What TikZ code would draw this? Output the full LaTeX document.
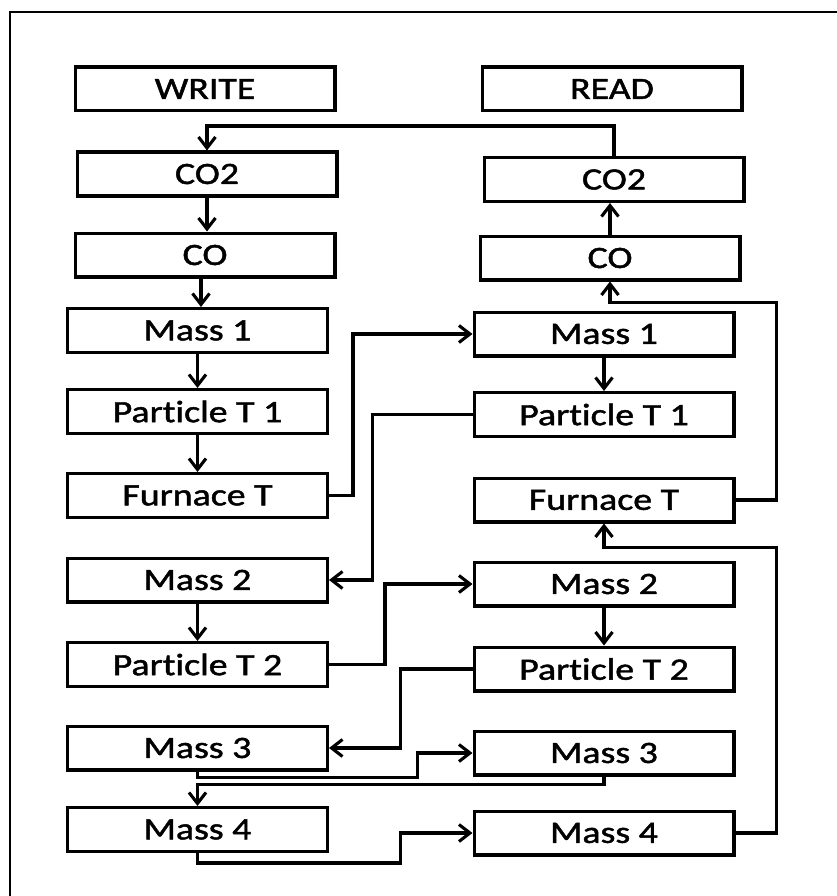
\documentclass[tikz,border=0pt]{standalone}
\usepackage{fontspec}
\setmainfont{Carlito}[FakeStretch=1.22,FakeBold=1.5,RawFeature={-liga}]
\usetikzlibrary{arrows.meta,calc}
\begin{document}
\begin{tikzpicture}[x=1pt,y=-1pt,
  box/.style={draw, line width=3.4pt, minimum width=259.6pt, minimum height=43.6pt, inner sep=0pt, font=\fontsize{31}{36}\selectfont},
  conn/.style={line width=3.1pt},
  arr/.style={conn, -{Straight Barb[length=11pt,width=17pt,line width=3.1pt]}},
  frame/.style={line width=2pt}
]
\useasboundingbox (0,0) rectangle (837,896);
\coordinate (fa) at (10,896);
\coordinate (fb) at (10,12);
\coordinate (fc) at (837,12);
\draw[frame] (fa) -- (fb) -- (fc);

\node[box] (write) at (205,89) {WRITE};
\node[box] (read) at (612,89) {READ};
\node[box] (co2l) at (207,174) {CO2};
\node[box] (co2r) at (614,179.5) {CO2};
\node[box] (col) at (205,255) {CO};
\node[box] (cor) at (610,258) {CO};
\node[box] (m1l) at (197.5,330.5) {Mass 1};
\node[box] (m1r) at (604,334) {Mass 1};
\node[box] (pt1l) at (197.5,411.5) {Particle T 1};
\node[box] (pt1r) at (604,414.5) {Particle T 1};
\node[box] (ftl) at (197.5,495.5) {Furnace T};
\node[box] (ftr) at (604,500) {Furnace T};
\node[box] (m2l) at (197.5,580) {Mass 2};
\node[box] (m2r) at (604,584) {Mass 2};
\node[box] (pt2l) at (197.5,664.5) {Particle T 2};
\node[box] (pt2r) at (604,669) {Particle T 2};
\node[box] (m3l) at (197.5,748) {Mass 3};
\node[box] (m3r) at (604,753) {Mass 3};
\node[box] (m4l) at (197.5,829.5) {Mass 4};
\node[box] (m4r) at (604,833) {Mass 4};

\draw[arr] (co2r.north) -- ++(0,-30) -| (co2l.north);
\draw[arr] (co2l.south) -- (co2l.south |- col.north);
\draw[arr] ($(col.south)+(-4,0)$) -- ($(col.south |- m1l.north)+(-4,0)$);
\draw[arr] (m1l) -- (pt1l);
\draw[arr] (pt1l) -- (ftl);
\draw[arr] (ftl.east) -- ++(24,0) |- (m1r.west);
\draw[arr] (m1r) -- (pt1r);
\draw[arr] (pt1r.west) -- ++(-100,0) |- (m2l.east);
\draw[arr] (ftr.east) -- ++(41,0) |- ($(cor.south)+(0,21)$) -- (cor.south);
\draw[arr] (cor.north) -- (cor.north |- co2r.south);
\draw[arr] (m4r.east) -- ++(41,0) |- ($(ftr.south)+(0,24)$) -- (ftr.south);
\draw[arr] (m2l) -- (pt2l);
\draw[arr] (pt2l.east) -- ++(56,0) |- (m2r.west);
\draw[arr] (m2r) -- (pt2r);
\draw[arr] (pt2r.west) -- ++(-72,0) |- (m3l.east);
\draw[arr] (m3l.south) -- ++(0,6) -| ($(m3r.west)+(-55,0)$) -- (m3r.west);
\draw[arr] (m3r.south) -- ++(0,8) -| (m4l.north);
\draw[arr] (m4l.south) -- ++(0,10) -| ($(m4r.west)+(-72,0)$) -- (m4r.west);
\end{tikzpicture}
\end{document}
